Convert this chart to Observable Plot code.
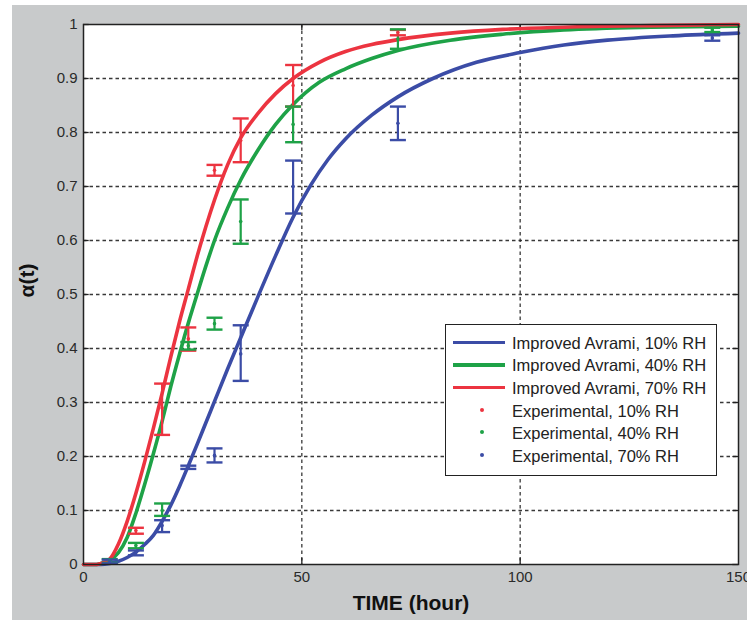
<!DOCTYPE html>
<html>
<head>
<meta charset="utf-8">
<script src="https://cdn.jsdelivr.net/npm/d3@7"></script>
<script src="https://cdn.jsdelivr.net/npm/@observablehq/plot@0.6"></script>
<style>
  html, body { margin: 0; padding: 0; background: #ffffff; }
  #wrap { position: relative; width: 747px; height: 620px; overflow: hidden; font-family: "Liberation Sans", Arial, sans-serif; }
  #bg { position: absolute; left: 12px; top: 5px; width: 735px; height: 615px; background: #c8cacb; }
  #chart { position: absolute; left: 0; top: 0; }
  #legend { position: absolute; left: 445px; top: 324px; width: 272px; height: 152px; background: #fff; border: 1px solid #222; box-sizing: border-box; }
  .row { position: absolute; left: 0; height: 22px; width: 100%; }
  .row .sw { position: absolute; left: 7px; width: 52px; top: 9px; height: 3.5px; }
  .row .dt { position: absolute; left: 34px; top: 8px; width: 4px; height: 4px; border-radius: 50%; }
  .row .tx { position: absolute; left: 66px; top: 0; line-height: 22px; font-size: 16.5px; color: #222; white-space: nowrap; }
</style>
</head>
<body>
<div id="wrap">
  <div id="bg"></div>
  <div id="chart"></div>
  <div id="legend"></div>
</div>
<script>
// ---------- data ----------
const xTicks = [0, 50, 100, 150];
const yTicks = [0, 0.1, 0.2, 0.3, 0.4, 0.5, 0.6, 0.7, 0.8, 0.9, 1];
const yTickLabels = ["0", "0.1", "0.2", "0.3", "0.4", "0.5", "0.6", "0.7", "0.8", "0.9", "1"];

const seriesNames = [
  "Improved Avrami, 10% RH", "Improved Avrami, 40% RH", "Improved Avrami, 70% RH",
  "Experimental, 10% RH", "Experimental, 40% RH", "Experimental, 70% RH"
];
const seriesColors = ["#3b4ca6", "#1ea247", "#ec3440", "#ec3440", "#1ea247", "#3b4ca6"];

// model curves
const blueT = [0, 4, 6, 8, 10, 12, 14, 16, 18, 20, 22, 24, 26, 28, 30, 33, 36, 40, 44, 48, 52, 56, 60, 66, 72, 80, 90, 100, 110, 120, 135, 150];
const blueA = [0, 0, 0.002, 0.006, 0.013, 0.023, 0.037, 0.054, 0.08, 0.11, 0.145, 0.183, 0.222, 0.262, 0.302, 0.362, 0.42, 0.497, 0.572, 0.643, 0.702, 0.75, 0.788, 0.832, 0.866, 0.9, 0.93, 0.948, 0.962, 0.971, 0.979, 0.984];

const greenT = [0, 3, 4, 6, 8, 10, 12, 14, 16, 18, 20, 22, 24, 26, 28, 30, 33, 36, 40, 44, 48, 54, 60, 66, 72, 84, 96, 110, 130, 150];
const greenA = [0, 0, 0.002, 0.008, 0.022, 0.05, 0.095, 0.148, 0.205, 0.265, 0.33, 0.39, 0.447, 0.5, 0.552, 0.6, 0.66, 0.712, 0.768, 0.815, 0.852, 0.893, 0.918, 0.937, 0.952, 0.971, 0.982, 0.99, 0.995, 0.997];

const redT = [0, 3, 4, 6, 8, 10, 12, 14, 16, 18, 20, 22, 24, 26, 28, 30, 33, 36, 40, 44, 48, 54, 60, 66, 72, 84, 96, 110, 130, 150];
const redA = [0, 0, 0.002, 0.01, 0.038, 0.08, 0.132, 0.19, 0.252, 0.317, 0.385, 0.45, 0.51, 0.57, 0.625, 0.675, 0.74, 0.79, 0.836, 0.872, 0.9, 0.93, 0.95, 0.963, 0.972, 0.984, 0.991, 0.995, 0.998, 1.0];

// experimental error bars
const expRedT = [12, 18, 24, 30, 36, 48, 72];
const expRedMean = [0.063, 0.29, 0.418, 0.73, 0.785, 0.887, 0.985];
const expRedLo = [0.057, 0.24, 0.396, 0.72, 0.745, 0.848, 0.98];
const expRedHi = [0.068, 0.335, 0.439, 0.74, 0.826, 0.925, 0.99];

const expGreenT = [6, 12, 18, 24, 30, 36, 48, 72, 144];
const expGreenMean = [0.006, 0.035, 0.1, 0.405, 0.446, 0.635, 0.815, 0.973, 0.99];
const expGreenLo = [0.003, 0.03, 0.09, 0.398, 0.435, 0.594, 0.782, 0.955, 0.986];
const expGreenHi = [0.01, 0.04, 0.113, 0.412, 0.457, 0.676, 0.848, 0.991, 0.994];

const expBlueT = [6, 12, 18, 24, 30, 36, 48, 72, 144];
const expBlueMean = [0.005, 0.022, 0.072, 0.18, 0.202, 0.39, 0.70, 0.817, 0.975];
const expBlueLo = [0.002, 0.017, 0.06, 0.177, 0.189, 0.34, 0.65, 0.786, 0.97];
const expBlueHi = [0.009, 0.026, 0.082, 0.183, 0.215, 0.443, 0.748, 0.848, 0.98];

// ---------- build tables ----------
const curve = (T, A, c) => T.map((t, i) => ({t, a: A[i], c}));
const curves = [
  ...curve(blueT, blueA, seriesColors[0]),
  ...curve(greenT, greenA, seriesColors[1]),
  ...curve(redT, redA, seriesColors[2])
];
const bars = (T, M, L, H, c) => T.map((t, i) => ({t, m: M[i], lo: L[i], hi: H[i], c}));
const errs = [
  ...bars(expRedT, expRedMean, expRedLo, expRedHi, seriesColors[3]),
  ...bars(expGreenT, expGreenMean, expGreenLo, expGreenHi, seriesColors[4]),
  ...bars(expBlueT, expBlueMean, expBlueLo, expBlueHi, seriesColors[5])
];

const capSymbol = { draw(ctx) { ctx.moveTo(-8, 0); ctx.lineTo(8, 0); } };
const labelOf = new Map(yTicks.map((v, i) => [v, yTickLabels[i]]));

const plot = Plot.plot({
  width: 747,
  height: 620,
  marginLeft: 83,
  marginRight: 9,
  marginTop: 24,
  marginBottom: 56,
  x: { domain: [0, 150] },
  y: { domain: [0, 1] },
  color: { type: "identity" },
  style: { background: "transparent", fontFamily: "Liberation Sans, Arial, sans-serif", fontSize: "15px", color: "#2a2a2a", overflow: "visible" },
  marks: [
    Plot.frame({ fill: "white", stroke: null }),
    Plot.gridX(xTicks.slice(1, -1), { stroke: "#222", strokeOpacity: 0.9, strokeWidth: 1.3, strokeDasharray: "3.5,3" }),
    Plot.gridY(yTicks.slice(1, -1), { stroke: "#222", strokeOpacity: 0.9, strokeWidth: 1.3, strokeDasharray: "3.5,3" }),
    // inward ticks on all sides
    Plot.ruleX(xTicks.slice(1, -1), { y1: 0, y2: 0.011, stroke: "#222", strokeWidth: 1.3 }),
    Plot.ruleX(xTicks.slice(1, -1), { y1: 0.989, y2: 1, stroke: "#222", strokeWidth: 1.3 }),
    Plot.ruleY(yTicks, { x1: 0, x2: 1.3, stroke: "#222", strokeWidth: 1.3 }),
    Plot.ruleY(yTicks, { x1: 148.7, x2: 150, stroke: "#222", strokeWidth: 1.3 }),
    // model curves
    Plot.line(curves, { x: "t", y: "a", z: "c", stroke: "c", strokeWidth: 3.6, curve: "monotone-x" }),
    // error bars
    Plot.ruleX(errs, { x: "t", y1: "lo", y2: "hi", stroke: "c", strokeWidth: 2.2 }),
    Plot.dot(errs, { x: "t", y: "lo", symbol: capSymbol, stroke: "c", strokeWidth: 2.4, fill: "none", r: 4 }),
    Plot.dot(errs, { x: "t", y: "hi", symbol: capSymbol, stroke: "c", strokeWidth: 2.4, fill: "none", r: 4 }),
    Plot.dot(errs, { x: "t", y: "m", r: 1.8, fill: "c", stroke: null }),
    Plot.frame({ stroke: "#222", strokeWidth: 1.5 }),
    // axes
    Plot.axisX(xTicks, { tickSize: 0, tickPadding: 7, fontSize: 15, label: null }),
    Plot.axisY(yTicks, { tickSize: 0, tickPadding: 6, fontSize: 15, label: null, tickFormat: (d) => labelOf.get(d) }),
    Plot.text(["TIME (hour)"], { frameAnchor: "bottom", lineAnchor: "middle", dy: 39, fontSize: 21, fontWeight: "bold", fill: "#111" }),
    Plot.text(["α(t)"], { frameAnchor: "left", lineAnchor: "middle", rotate: -90, dx: -56, dy: 3, fontSize: 21, fontWeight: "bold", fill: "#111" })
  ]
});
document.getElementById("chart").appendChild(plot);

// ---------- legend ----------
const legend = document.getElementById("legend");
seriesNames.forEach((name, i) => {
  const row = document.createElement("div");
  row.className = "row";
  row.style.top = (6.5 + 22.7 * i) + "px";
  const mark = document.createElement("div");
  if (i < 3) { mark.className = "sw"; } else { mark.className = "dt"; }
  mark.style.background = seriesColors[i];
  const tx = document.createElement("div");
  tx.className = "tx";
  tx.textContent = name;
  row.appendChild(mark);
  row.appendChild(tx);
  legend.appendChild(row);
});
</script>
</body>
</html>
